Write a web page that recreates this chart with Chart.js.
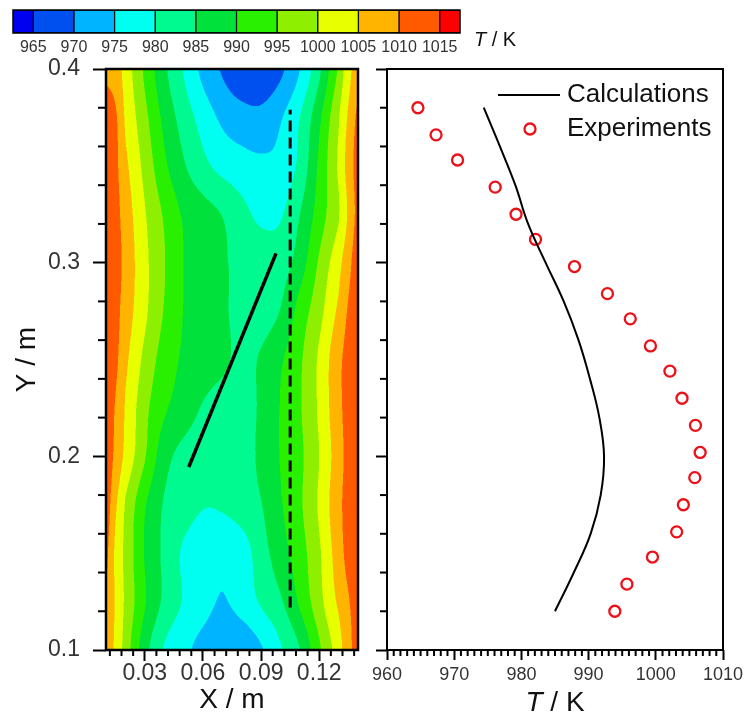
<!DOCTYPE html>
<html>
<head>
<meta charset="utf-8">
<script src="https://cdn.jsdelivr.net/npm/chart.js@4.4.1/dist/chart.umd.min.js"></script>
<style>
  html, body { margin: 0; padding: 0; background: #fff; }
  #wrap { position: relative; width: 745px; height: 722px; }
  #wrap canvas { position: absolute; left: 0; top: 0; }
</style>
</head>
<body>
<div id="wrap">
  <canvas id="bar" width="745" height="722"></canvas>
  <canvas id="map" width="745" height="722"></canvas>
  <canvas id="profile" width="745" height="722"></canvas>
</div>
<script>
// colour levels (K) and band colours, lowest band first
const levels = [965, 970, 975, 980, 985, 990, 995, 1000, 1005, 1010, 1015];
const barRange = [962.5, 1017.5];
const bandColors = ['#0000f0', '#0050f0', '#00b4ff', '#00fff0', '#00fa90', '#00e13c',
  '#28f000', '#8ef000', '#e8ff00', '#ffb400', '#ff5a00', '#ff0000'];

// temperature field (rows: Y from 0.10 up to 0.40)
const gridX = [0.010, 0.015, 0.020, 0.030, 0.040, 0.050, 0.060, 0.070, 0.080, 0.090, 0.100, 0.110, 0.120, 0.130, 0.135, 0.140];
const gridY = [0.100, 0.125, 0.150, 0.175, 0.200, 0.225, 0.250, 0.275, 0.300, 0.325, 0.350, 0.375, 0.400];
const fieldT = [
  [1008.5, 1003.8, 997.5, 987.0, 979.6, 976.2, 973.5, 972.0, 971.5, 974.5, 979.5, 985.0, 994.2, 1002.5, 1008.3, 1012.0],
  [1009.5, 1004.4, 998.9, 990.4, 984.0, 979.6, 976.7, 974.7, 976.9, 980.6, 984.3, 990.8, 998.3, 1005.8, 1009.6, 1012.0],
  [1011.0, 1003.9, 998.5, 989.7, 984.0, 979.3, 977.0, 976.0, 977.5, 982.8, 987.8, 992.8, 999.3, 1007.5, 1011.5, 1013.5],
  [1012.5, 1005.7, 999.5, 990.5, 984.6, 982.3, 980.3, 980.6, 982.3, 984.8, 989.5, 994.2, 1000.7, 1008.5, 1011.5, 1013.5],
  [1013.5, 1008.5, 1003.5, 995.4, 987.0, 983.5, 982.2, 981.8, 982.5, 986.2, 990.2, 994.0, 1000.0, 1007.7, 1011.5, 1013.5],
  [1013.0, 1009.5, 1004.5, 996.5, 990.8, 987.6, 984.6, 983.0, 982.5, 985.9, 990.2, 994.5, 1000.8, 1008.5, 1011.5, 1013.5],
  [1013.5, 1011.0, 1006.0, 998.7, 992.8, 989.3, 987.5, 985.9, 984.0, 985.5, 989.3, 994.2, 1000.8, 1008.5, 1011.5, 1013.5],
  [1013.5, 1011.5, 1007.5, 1001.0, 994.7, 989.9, 987.8, 985.8, 983.5, 983.0, 985.2, 992.0, 998.3, 1005.9, 1010.5, 1013.0],
  [1014.0, 1012.0, 1008.2, 1001.3, 995.3, 990.0, 987.8, 985.7, 983.5, 982.5, 982.8, 987.5, 995.7, 1003.2, 1008.3, 1013.0],
  [1013.5, 1011.5, 1007.5, 1000.4, 994.4, 989.4, 987.0, 984.8, 981.5, 979.0, 979.5, 985.0, 992.3, 999.6, 1005.7, 1011.5],
  [1013.0, 1011.0, 1006.0, 998.5, 991.1, 985.6, 981.4, 978.5, 977.0, 976.0, 976.5, 981.4, 991.0, 1000.6, 1006.9, 1012.0],
  [1012.5, 1010.6, 1004.2, 996.4, 988.7, 982.8, 978.0, 974.0, 972.0, 971.5, 974.5, 980.0, 988.9, 999.4, 1005.7, 1011.0],
  [1009.0, 1007.5, 1002.7, 994.1, 986.1, 979.7, 973.7, 969.5, 966.5, 966.0, 969.0, 975.0, 984.0, 995.7, 1003.0, 1008.0]
];

// lines drawn on the map
const slantX = [0.0527, 0.0977];
const slantY = [0.1945, 0.3048];
const probeX = [0.105, 0.105];
const probeY = [0.122, 0.379];

// profile along the probe
const calcY = [0.38, 0.36, 0.34, 0.32, 0.30, 0.28, 0.26, 0.24, 0.22, 0.20, 0.18, 0.16, 0.14, 0.12];
const calcT = [974.4, 976.8, 979.1, 981.0, 983.6, 986.3, 988.5, 990.2, 991.6, 992.3, 991.8, 990.3, 987.8, 985.0];
const expY = [0.380, 0.366, 0.353, 0.339, 0.325, 0.312, 0.298, 0.284, 0.271, 0.257,
  0.244, 0.230, 0.216, 0.202, 0.189, 0.175, 0.161, 0.148, 0.134, 0.120];
const expT = [964.6, 967.3, 970.5, 976.1, 979.2, 982.1, 987.9, 992.8, 996.2, 999.2,
  1002.1, 1003.9, 1005.9, 1006.6, 1005.8, 1004.1, 1003.1, 999.5, 995.7, 993.9];

// ticks
const yTicks = [0.1, 0.2, 0.3, 0.4];
const yMinor = [0.12, 0.14, 0.16, 0.18, 0.22, 0.24, 0.26, 0.28, 0.32, 0.34, 0.36, 0.38];
const mapXTicks = [0.03, 0.06, 0.09, 0.12];
const mapXMinor = [0.012, 0.018, 0.024, 0.036, 0.042, 0.048, 0.054, 0.066, 0.072, 0.078,
  0.084, 0.096, 0.102, 0.108, 0.114, 0.126, 0.132, 0.138];
const tempTicks = [960, 970, 980, 990, 1000, 1010];
const tempMinor = [];
for (let t = 961; t < 1010; t++) if (t % 10) tempMinor.push(t);

const FONT = "'Liberation Sans', Arial, sans-serif";
Chart.defaults.font.family = FONT;
Chart.defaults.color = '#333';

const setTicks = arr => s => { s.ticks = arr.map(v => ({ value: v })); };

function locate(arr, v) {
  let k = 0;
  while (k < arr.length - 2 && v > arr[k + 1]) k++;
  const t = (v - arr[k]) / (arr[k + 1] - arr[k]);
  return [k, Math.max(0, Math.min(1, t))];
}
function bandIndex(T) {
  let i = 0;
  while (i < levels.length && T >= levels[i]) i++;
  return i;
}
function hexRgb(h) {
  const n = parseInt(h.slice(1), 16);
  return [(n >> 16) & 255, (n >> 8) & 255, n & 255];
}
// Catmull-Rom weights for the four neighbours
function crWeights(t) {
  const t2 = t * t, t3 = t2 * t;
  return [0.5 * (-t + 2 * t2 - t3), 0.5 * (2 - 5 * t2 + 3 * t3), 0.5 * (t + 4 * t2 - 3 * t3), 0.5 * (-t2 + t3)];
}
function neighbours(k, n) {
  return [Math.max(k - 1, 0), k, k + 1, Math.min(k + 2, n - 1)];
}

// filled contour bands, sampled through the chart scales
const contour = {
  id: 'contour',
  beforeDatasetsDraw(chart) {
    const { ctx, chartArea: a, scales } = chart;
    const x0 = Math.round(a.left), y0 = Math.round(a.top);
    const w = Math.round(a.right) - x0, h = Math.round(a.bottom) - y0;
    const rgb = bandColors.map(hexRgb);
    const sub = [0.25, 0.75];
    const prep = (arr, v) => {
      const [k, t] = locate(arr, v);
      return { idx: neighbours(k, arr.length), wt: crWeights(t) };
    };
    const cx = [], cy = [];
    for (let i = 0; i < w; i++) for (const s of sub) cx.push(prep(gridX, scales.x.getValueForPixel(x0 + i + s)));
    for (let j = 0; j < h; j++) for (const s of sub) cy.push(prep(gridY, scales.y.getValueForPixel(y0 + j + s)));
    const img = ctx.createImageData(w, h);
    for (let j = 0; j < h; j++) {
      for (let i = 0; i < w; i++) {
        let r = 0, g = 0, b = 0;
        for (let sj = 0; sj < 2; sj++) {
          const py = cy[2 * j + sj];
          for (let si = 0; si < 2; si++) {
            const px = cx[2 * i + si];
            let T = 0;
            for (let m = 0; m < 4; m++) {
              const row = fieldT[py.idx[m]];
              const rv = px.wt[0] * row[px.idx[0]] + px.wt[1] * row[px.idx[1]] +
                px.wt[2] * row[px.idx[2]] + px.wt[3] * row[px.idx[3]];
              T += py.wt[m] * rv;
            }
            const c = rgb[bandIndex(T)];
            r += c[0]; g += c[1]; b += c[2];
          }
        }
        const p = 4 * (j * w + i);
        img.data[p] = r / 4; img.data[p + 1] = g / 4; img.data[p + 2] = b / 4; img.data[p + 3] = 255;
      }
    }
    ctx.putImageData(img, x0, y0);
  }
};

const makeFrame = width => ({
  id: 'frame',
  afterDatasetsDraw(chart) {
    const { ctx, chartArea: a } = chart;
    ctx.save();
    ctx.lineWidth = width;
    ctx.strokeStyle = '#000';
    ctx.strokeRect(a.left, a.top, a.right - a.left, a.bottom - a.top);
    ctx.restore();
  }
});

const makeMinor = sets => ({
  id: 'minorTicks',
  afterDraw(chart) {
    const { ctx, chartArea: a } = chart;
    ctx.save();
    ctx.strokeStyle = '#000';
    ctx.lineWidth = 2;
    sets.forEach(s => {
      const scale = chart.scales[s.axis];
      s.values.forEach(v => {
        const p = scale.getPixelForValue(v);
        ctx.beginPath();
        if (scale.isHorizontal()) { ctx.moveTo(p, a.bottom); ctx.lineTo(p, a.bottom + s.len); }
        else { ctx.moveTo(a.left - s.len, p); ctx.lineTo(a.left, p); }
        ctx.stroke();
      });
    });
    ctx.restore();
  }
});

// "T / K" with italic T
function drawTK(ctx, cx, cy, size) {
  const parts = [['T', 'italic '], [' / K', '']];
  let total = 0;
  parts.forEach(p => { ctx.font = p[1] + size + 'px ' + FONT; total += ctx.measureText(p[0]).width; });
  let x = cx - total / 2;
  ctx.fillStyle = '#111';
  ctx.textAlign = 'left';
  ctx.textBaseline = 'middle';
  parts.forEach(p => {
    ctx.font = p[1] + size + 'px ' + FONT;
    ctx.fillText(p[0], x, cy);
    x += ctx.measureText(p[0]).width;
  });
}

// keep edge labels from shrinking the plot area
const noEdgePad = height => s => { s.height = height; s.paddingLeft = 0; s.paddingRight = 0; };

// colour bar
const bandEdges = [barRange[0], ...levels, barRange[1]];
new Chart(document.getElementById('bar'), {
  type: 'bar',
  data: {
    labels: [''],
    datasets: bandColors.map((c, i) => ({
      data: [[bandEdges[i], bandEdges[i + 1]]],
      backgroundColor: c,
      borderColor: '#000',
      borderWidth: 1,
      borderSkipped: false,
      grouped: false,
      barPercentage: 1,
      categoryPercentage: 1
    }))
  },
  options: {
    indexAxis: 'y',
    responsive: false,
    animation: false,
    layout: { padding: { left: 13, right: 285, top: 10, bottom: 669 } },
    plugins: { legend: { display: false }, tooltip: { enabled: false } },
    scales: {
      x: {
        type: 'linear', min: barRange[0], max: barRange[1],
        grid: { display: false, drawTicks: false },
        border: { display: false },
        ticks: { padding: 7, font: { size: 16, lineHeight: 1 }, color: '#333', callback: v => String(v) },
        afterBuildTicks: setTicks(levels),
        afterFit: noEdgePad(20)
      },
      y: { display: false }
    }
  },
  plugins: [makeFrame(1.5), {
    id: 'barTitle',
    afterDraw(chart) {
      const a = chart.chartArea;
      chart.ctx.save();
      drawTK(chart.ctx, a.right + 35, a.top + 30, 20);
      chart.ctx.restore();
    }
  }]
});

// contour map
new Chart(document.getElementById('map'), {
  type: 'scatter',
  data: {
    datasets: [
      {
        data: slantX.map((x, i) => ({ x, y: slantY[i] })),
        showLine: true, borderColor: '#000', borderWidth: 3.5, pointRadius: 0
      },
      {
        data: probeX.map((x, i) => ({ x, y: probeY[i] })),
        showLine: true, borderColor: '#000', borderWidth: 3, borderDash: [11, 6], pointRadius: 0
      }
    ]
  },
  options: {
    responsive: false,
    animation: false,
    layout: { padding: { left: 6, right: 387, top: 69, bottom: 1 } },
    plugins: { legend: { display: false }, tooltip: { enabled: false } },
    scales: {
      x: {
        type: 'linear', min: 0.01, max: 0.14,
        grid: { drawOnChartArea: false, tickLength: 11, tickWidth: 2, tickColor: '#000' },
        border: { display: false },
        ticks: { padding: 1, font: { size: 23, lineHeight: 1 }, callback: v => v.toFixed(2) },
        title: { display: true, text: 'X / m', color: '#111', font: { size: 28 }, padding: { top: 4, bottom: 4 } },
        afterBuildTicks: setTicks(mapXTicks),
        afterFit: noEdgePad(71)
      },
      y: {
        type: 'linear', min: 0.1, max: 0.4,
        grid: { drawOnChartArea: false, tickLength: 13, tickWidth: 2, tickColor: '#000' },
        border: { display: false },
        ticks: { padding: 13, font: { size: 23, lineHeight: 1 }, callback: v => v.toFixed(1) },
        title: { display: true, text: 'Y / m', color: '#111', font: { size: 28 }, padding: { top: 4, bottom: 4 } },
        afterBuildTicks: setTicks(yTicks),
        afterFit: s => { s.width = 100; }
      }
    }
  },
  plugins: [contour, makeFrame(2.5), makeMinor([
    { axis: 'x', values: mapXMinor, len: 6 },
    { axis: 'y', values: yMinor, len: 8 }
  ])]
});

// temperature profile
new Chart(document.getElementById('profile'), {
  type: 'scatter',
  data: {
    datasets: [
      {
        label: 'Calculations',
        data: calcY.map((y, i) => ({ x: calcT[i], y })),
        showLine: true, borderColor: '#000', borderWidth: 2, pointRadius: 0, tension: 0.4
      },
      {
        label: 'Experiments',
        data: expY.map((y, i) => ({ x: expT[i], y })),
        showLine: false, borderColor: '#ec1018', backgroundColor: 'rgba(0,0,0,0)',
        borderWidth: 2.3, pointRadius: 5.5, pointBorderWidth: 2.3, pointStyle: 'circle'
      }
    ]
  },
  options: {
    responsive: false,
    animation: false,
    layout: { padding: { left: 367, right: 22, top: 69, bottom: 0 } },
    plugins: { legend: { display: false }, tooltip: { enabled: false } },
    scales: {
      x: {
        type: 'linear', min: 960, max: 1010,
        grid: { drawOnChartArea: false, tickLength: 10, tickWidth: 2, tickColor: '#000' },
        border: { display: false },
        ticks: { padding: 6, font: { size: 18, lineHeight: 1 }, callback: v => String(v) },
        afterBuildTicks: setTicks(tempTicks),
        afterFit: noEdgePad(72)
      },
      y: {
        type: 'linear', min: 0.1, max: 0.4,
        grid: { drawOnChartArea: false, tickLength: 11, tickWidth: 2, tickColor: '#000' },
        border: { display: false },
        ticks: { display: false },
        afterBuildTicks: setTicks(yTicks),
        afterFit: s => { s.width = 20; }
      }
    }
  },
  plugins: [makeFrame(2), makeMinor([
    { axis: 'x', values: tempMinor, len: 6 },
    { axis: 'y', values: yMinor, len: 7 }
  ]), {
    id: 'insideLegend',
    afterDraw(chart) {
      const { ctx, chartArea: a } = chart;
      const textX = a.right - 156;
      ctx.save();
      chart.data.datasets.forEach((ds, i) => {
        const y = a.top + 26 + i * 34;
        ctx.strokeStyle = ds.borderColor;
        ctx.lineWidth = ds.borderWidth;
        ctx.beginPath();
        if (ds.showLine) {
          ctx.moveTo(textX - 69, y);
          ctx.lineTo(textX - 7, y);
        } else {
          ctx.arc(textX - 37, y, ds.pointRadius, 0, Math.PI * 2);
        }
        ctx.stroke();
        ctx.fillStyle = '#111';
        ctx.font = '26px ' + FONT;
        ctx.textAlign = 'left';
        ctx.textBaseline = 'middle';
        ctx.fillText(ds.label, textX, y);
      });
      drawTK(ctx, (a.left + a.right) / 2, a.bottom + 53, 28);
      ctx.restore();
    }
  }]
});
</script>
</body>
</html>
